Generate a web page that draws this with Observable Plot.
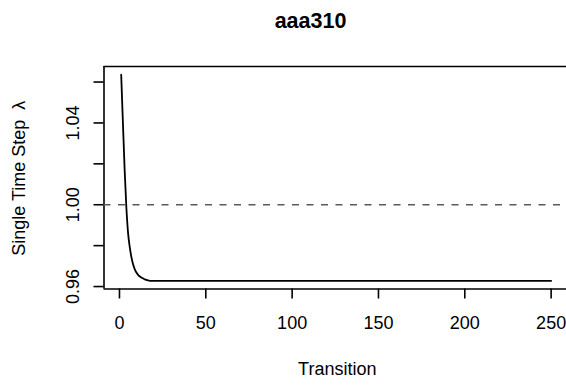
<!DOCTYPE html>
<html>
<head>
<meta charset="utf-8">
<script src="https://cdn.jsdelivr.net/npm/d3@7"></script>
<script src="https://cdn.jsdelivr.net/npm/@observablehq/plot@0.6"></script>
<style>
  html, body { margin: 0; padding: 0; background: #fff; }
  #chart svg { display: block; }
</style>
</head>
<body>
<div id="chart"></div>
<script>
// ---- data ----
const title = "aaa310";
const xLabel = "Transition";
const yLabel = "Single Time Step\u00a0\u00a0\u03bb";
const transition = [1, 2, 3, 4, 5, 6, 7, 8, 9, 10, 11, 12, 13, 14, 15, 16, 17, 19, 250];
const lambda = [1.0636, 1.040, 1.017, 0.9985, 0.986, 0.979, 0.974, 0.9705, 0.9682, 0.9666, 0.9655, 0.9648, 0.9643, 0.9638, 0.9634, 0.9631, 0.9629, 0.9628, 0.9628];
const refLine = [1.00];
const xTicks = [0, 50, 100, 150, 200, 250];
const yTicks = [0.96, 0.98, 1.00, 1.02, 1.04, 1.06];
const yTickLabels = [0.96, 1.00, 1.04];

const data = transition.map((t, i) => ({t, v: lambda[i]}));
const xDomain = [-8.96, 258.9];
const yDomain = [0.9588, 1.0676];
const font = "Liberation Sans, Arial, Helvetica, sans-serif";
const fmt = d3.format(".2f");

const chart = Plot.plot({
  width: 566,
  height: 385,
  marginTop: 66,
  marginBottom: 96.5,
  marginLeft: 103.5,
  marginRight: 0,
  style: {fontFamily: font, background: "#fff", color: "#000", overflow: "visible"},
  x: {domain: xDomain, axis: null},
  y: {domain: yDomain, axis: null},
  marks: [
    // box (top, left, bottom)
    Plot.ruleY([yDomain[1]], {stroke: "#000", strokeWidth: 1.6}),
    Plot.ruleY([yDomain[0]], {stroke: "#000", strokeWidth: 1.6}),
    Plot.ruleX([xDomain[0]], {stroke: "#000", strokeWidth: 1.6}),
    // axes ticks
    Plot.axisX(xTicks, {anchor: "bottom", tickSize: 10, tickFormat: () => "", label: null, stroke: "#000", strokeWidth: 1.6}),
    Plot.axisY(yTicks, {anchor: "left", tickSize: 10, tickFormat: () => "", label: null, stroke: "#000", strokeWidth: 1.6}),
    // tick labels
    Plot.text(xTicks, {x: d => d, frameAnchor: "bottom", dy: 34.5, text: d => String(d), fontSize: 18, fill: "#000", textAnchor: "middle", lineAnchor: "middle"}),
    Plot.text(yTickLabels, {y: d => d, frameAnchor: "left", dx: -31, text: d => fmt(d), fontSize: 18, fill: "#000", rotate: -90, textAnchor: "middle", lineAnchor: "middle"}),
    // reference line
    Plot.ruleY(refLine, {stroke: "#5a5a5a", strokeWidth: 1.6, strokeDasharray: "7,7.5"}),
    // series
    Plot.line(data, {x: "t", y: "v", stroke: "#000", strokeWidth: 1.8, curve: "monotone-x"}),
    // titles
    Plot.text([title], {frameAnchor: "top", dx: -24.75, dy: -45.5, text: d => d, fontSize: 21.5, fontWeight: "bold", fill: "#000", lineAnchor: "middle"}),
    Plot.text([xLabel], {frameAnchor: "bottom", dx: 2, dy: 80.5, text: d => d, fontSize: 18, fill: "#000", lineAnchor: "middle"}),
    Plot.text([yLabel], {frameAnchor: "left", dx: -84.5, dy: 0.5, text: d => d, fontSize: 18, fill: "#000", rotate: -90, textAnchor: "middle", lineAnchor: "middle"})
  ]
});
document.getElementById("chart").appendChild(chart);
</script>
</body>
</html>
